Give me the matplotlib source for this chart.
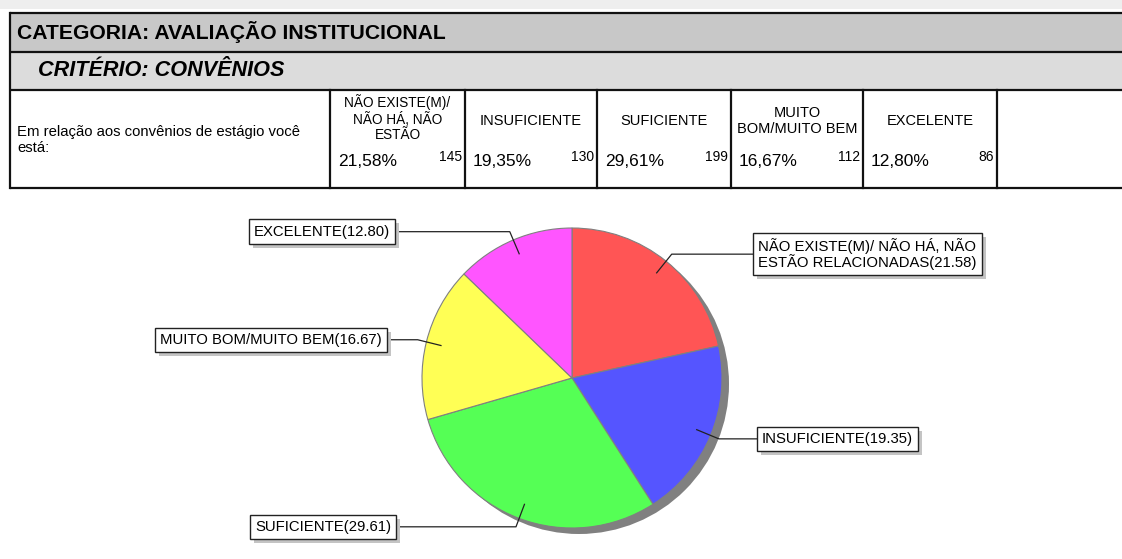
import numpy as np
import matplotlib.pyplot as plt
from matplotlib.patches import Rectangle, Circle

plt.rcParams['font.family'] = ['Liberation Sans', 'DejaVu Sans']

# Data
categoria = "CATEGORIA: AVALIAÇÃO INSTITUCIONAL"
criterio = "CRITÉRIO: CONVÊNIOS"
pergunta = "Em relação aos convênios de estágio você\nestá:"
col_headers = ["NÃO EXISTE(M)/\nNÃO HÁ, NÃO\nESTÃO", "INSUFICIENTE", "SUFICIENTE",
               "MUITO\nBOM/MUITO BEM", "EXCELENTE"]
pie_labels = ["NÃO EXISTE(M)/ NÃO HÁ, NÃO\nESTÃO RELACIONADAS", "INSUFICIENTE", "SUFICIENTE",
              "MUITO BOM/MUITO BEM", "EXCELENTE"]
percents = [21.58, 19.35, 29.61, 16.67, 12.80]
counts = [145, 130, 199, 112, 86]
colors = ["#ff5555", "#5555ff", "#55ff55", "#ffff55", "#ff55ff"]

W, H = 1122, 559
fig = plt.figure(figsize=(W / 100, H / 100), dpi=100)
ax = fig.add_axes([0, 0, 1, 1])
ax.set_xlim(0, W)
ax.set_ylim(0, H)
ax.axis('off')


def Y(y):
    # image row -> data y
    return H - y


# light strip at top of page
ax.add_patch(Rectangle((0, Y(9)), W, 9, facecolor="#eeeeee", edgecolor="none"))

# Table
left, right = 10, W + 5
rows = [13, 52, 90, 188]
ax.add_patch(Rectangle((left, Y(rows[1])), right - left, rows[1] - rows[0],
                       facecolor="#c8c8c8", edgecolor="none"))
ax.add_patch(Rectangle((left, Y(rows[2])), right - left, rows[2] - rows[1],
                       facecolor="#dcdcdc", edgecolor="none"))
for r in rows:
    ax.plot([left, right], [Y(r), Y(r)], color="#111111", lw=1.6, solid_capstyle='butt')
ax.plot([left, left], [Y(rows[0]), Y(rows[3])], color="#111111", lw=1.6)

col_x = [330, 465, 597, 731, 863, 997]
for cx in col_x:
    ax.plot([cx, cx], [Y(rows[2]), Y(rows[3])], color="#111111", lw=1.6)

ax.text(17, Y(32), categoria, fontsize=15.2, fontweight='bold', va='center', ha='left')
ax.text(38, Y(70), criterio, fontsize=15.6, fontweight='bold', fontstyle='italic',
        va='center', ha='left')
ax.text(17, Y(140), pergunta, fontsize=10.7, va='center', ha='left', linespacing=1.15)

for i, hdr in enumerate(col_headers):
    x0, x1 = col_x[i], col_x[i + 1]
    ax.text((x0 + x1) / 2, Y(118 if i == 0 else 121), hdr,
            fontsize=9.8 if i == 0 else 10.5, ha='center', va='center',
            multialignment='center', linespacing=1.1)
    ax.text(x0 + 8, Y(161), f"{percents[i]:.2f}%".replace('.', ','), fontsize=12.5,
            ha='left', va='center')
    ax.text(x1 - 3, Y(157), str(counts[i]), fontsize=10, ha='right', va='center')

# Pie
cx, cy, r = 572, Y(378), 150
ax.add_patch(Circle((cx + 7, cy - 6), r, facecolor="#808080", edgecolor="none", zorder=1))
wedges, _ = ax.pie(percents, colors=colors, startangle=90, counterclock=False,
                   center=(cx, cy), radius=r, frame=True,
                   wedgeprops=dict(edgecolor="#808080", linewidth=0.8, zorder=2))
ax.set_xlim(0, W)
ax.set_ylim(0, H)
ax.set_aspect('equal')
ax.axis('off')

# label boxes: (box edge x, side)
box_pos = [(753, 'left'), (757, 'left'), (396, 'right'), (387, 'right'), (395, 'right')]
label_texts = []
for w, lab, pct, (bx, side) in zip(wedges, pie_labels, percents, box_pos):
    ang = np.deg2rad((w.theta1 + w.theta2) / 2)
    ax_, ay_ = cx + 0.9 * r * np.cos(ang), cy + 0.9 * r * np.sin(ang)
    kx, ky = cx + 1.06 * r * np.cos(ang), cy + 1.06 * r * np.sin(ang)
    ax.plot([ax_, kx, bx], [ay_, ky, ky], color="#222222", lw=0.9, zorder=3)
    ha = 'left' if side == 'left' else 'right'
    tx = bx + 5 if side == 'left' else bx - 5
    t = ax.text(tx, ky, f"{lab}({pct:.2f})", fontsize=10.7, ha=ha, va='center',
                multialignment='center', linespacing=1.0, zorder=4,
                bbox=dict(boxstyle='square,pad=0.35', facecolor='white',
                          edgecolor='#222222', linewidth=1.0))
    label_texts.append(t)

# drop shadows behind the label boxes
fig.canvas.draw()
inv = ax.transData.inverted()
for t in label_texts:
    ext = t.get_bbox_patch().get_window_extent()
    (x0, y0), (x1, y1) = inv.transform([[ext.x0, ext.y0], [ext.x1, ext.y1]])
    ax.add_patch(Rectangle((x0 + 4, y0 - 4), x1 - x0, y1 - y0,
                           facecolor='#c4c4c4', edgecolor='none', zorder=3.5))

fig.savefig("out.png", dpi=100)
